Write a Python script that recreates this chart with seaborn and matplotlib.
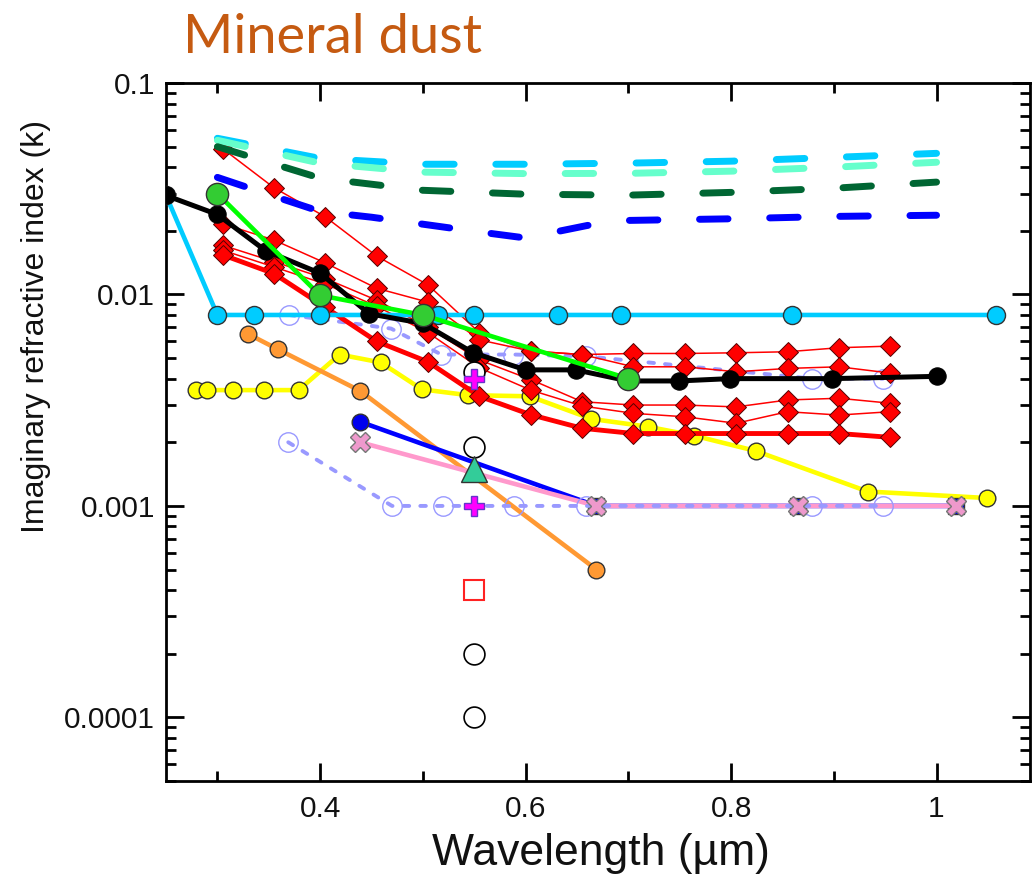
import matplotlib
matplotlib.use("Agg")
import matplotlib.pyplot as plt
import matplotlib.ticker as mticker
import seaborn as sns

# wavelength (um) and imaginary refractive index k
wl_dash = [0.3, 0.4, 0.5, 0.6, 0.7, 0.8, 0.9, 1.0]
k_dash_sky = [0.0548, 0.044, 0.0413, 0.0413, 0.0418, 0.0427, 0.0445, 0.0465]
k_dash_aqua = [0.0536, 0.0418, 0.0379, 0.0373, 0.0374, 0.0383, 0.040, 0.0422]
k_dash_dkgreen = [0.050, 0.0355, 0.0311, 0.0298, 0.0295, 0.0304, 0.0318, 0.034]
wl_dash_blue = [0.3, 0.35, 0.4, 0.45, 0.5, 0.55, 0.6, 0.66, 0.7, 0.8, 0.9, 1.0]
k_dash_blue = [0.0358, 0.0297, 0.0247, 0.0232, 0.0215, 0.0199, 0.0185, 0.0212,
               0.0224, 0.0228, 0.0234, 0.0237]

wl_sky = [0.25, 0.3, 0.336, 0.4, 0.515, 0.55, 0.632, 0.693, 0.859, 1.058]
k_sky = [0.0294, 0.008, 0.008, 0.008, 0.008, 0.008, 0.008, 0.008, 0.008, 0.008]

wl_black = [0.25, 0.3, 0.347, 0.4, 0.448, 0.5, 0.549, 0.6, 0.649, 0.7, 0.749, 0.799, 0.898, 1.0]
k_black = [0.0294, 0.0239, 0.0161, 0.0126, 0.0081, 0.0073, 0.0053, 0.0044, 0.0044,
           0.0039, 0.0039, 0.0040, 0.0040, 0.0041]

wl_green = [0.3, 0.4, 0.5, 0.7]
k_green = [0.030, 0.0099, 0.008, 0.0040]

wl_red = [0.305, 0.355, 0.405, 0.455, 0.505, 0.555, 0.605, 0.655, 0.705, 0.755,
          0.805, 0.855, 0.905, 0.955]
k_red1 = [0.049, 0.032, 0.0233, 0.0152, 0.0111, 0.0066, 0.0054, 0.0052, 0.00526,
          0.00526, 0.0053, 0.00536, 0.0056, 0.0057]
k_red2 = [0.0216, 0.0181, 0.0141, 0.0107, 0.0092, 0.0061, 0.0054, 0.0052, 0.00455,
          0.00455, 0.00431, 0.00447, 0.00455, 0.00425]
k_red3 = [0.0171, 0.0143, 0.0119, 0.0094, 0.0070, 0.0049, 0.00396, 0.00311, 0.0030,
          0.0030, 0.00294, 0.00317, 0.00323, 0.00306]
k_red4 = [0.0162, 0.0135, 0.0112, 0.0088, 0.0066, 0.0045, 0.00353, 0.00297, 0.00274,
          0.00264, 0.00246, 0.00279, 0.00269, 0.00279]
k_red_thick = [0.0154, 0.01256, 0.0087, 0.0060, 0.0048, 0.0033, 0.0027, 0.00233,
               0.0022, 0.0022, 0.0022, 0.0022, 0.0022, 0.00211]

wl_yellow = [0.279, 0.29, 0.315, 0.345, 0.379, 0.419, 0.459, 0.499, 0.544, 0.604,
             0.664, 0.719, 0.764, 0.824, 0.933, 1.049]
k_yellow = [0.00353, 0.00353, 0.00353, 0.00353, 0.00353, 0.0052, 0.00477, 0.00356,
            0.00334, 0.0033, 0.00258, 0.00237, 0.00215, 0.00182, 0.00117, 0.00109]

wl_orange = [0.33, 0.359, 0.439, 0.669]
k_orange = [0.0065, 0.0055, 0.0035, 0.0005]

wl_blue = [0.439, 0.669, 0.865, 1.019]
k_blue = [0.0025, 0.001, 0.001, 0.001]
wl_pink = [0.439, 0.669, 0.865, 1.019]
k_pink = [0.002, 0.001, 0.001, 0.001]

wl_lav_hi = [0.37, 0.469, 0.518, 0.588, 0.659, 0.879, 0.948]
k_lav_hi = [0.008, 0.0069, 0.0052, 0.0052, 0.0051, 0.004, 0.004]
wl_lav_lo = [0.369, 0.47, 0.52, 0.589, 0.659, 0.879, 0.948]
k_lav_lo = [0.002, 0.001, 0.001, 0.001, 0.001, 0.001, 0.001]

# single values at 550 nm
wl_550 = 0.55
k_open = [0.0043, 0.0019, 0.0002, 0.0001]
k_square = [0.0004]
k_triangle = [0.0015]
k_plus = [0.004, 0.001]

sns.set_theme(style="ticks")
plt.rcParams["font.family"] = ["Liberation Sans", "DejaVu Sans"]
plt.rcParams["lines.scale_dashes"] = False

fig = plt.figure(figsize=(10.35, 8.75), dpi=100)
ax = fig.add_axes([0.1604, 0.1074, 0.8348, 0.7977])
ax.set_yscale("log")

EDGE = "#333333"


def line(x, y, **kws):
    sns.lineplot(x=x, y=y, ax=ax, estimator=None, sort=False, legend=False, **kws)


def dots(x, y, **kws):
    line(x, y, linestyle="none", **kws)


# lavender dashed series (open circles)
for xs, ys in [(wl_lav_hi, k_lav_hi), (wl_lav_lo, k_lav_lo)]:
    line(xs, ys, color="#9999ff", lw=2.8, linestyle=(0, (4, 8)),
         dash_capstyle="round", zorder=4)
    dots(xs, ys, marker="o", markersize=14, markerfacecolor="none",
         markeredgecolor="#9999ff", markeredgewidth=1.0, zorder=4)

line(wl_yellow, k_yellow, color="#ffff00", lw=3.3, marker="o", markersize=12,
     markerfacecolor="#ffff00", markeredgecolor=EDGE, markeredgewidth=1, zorder=3)
line(wl_orange, k_orange, color="#ff9933", lw=3.3, marker="o", markersize=12,
     markerfacecolor="#ff9933", markeredgecolor=EDGE, markeredgewidth=1, zorder=3)

line(wl_blue, k_blue, color="#0000ff", lw=3.3, zorder=3)
dots(wl_blue[:1], k_blue[:1], marker="o", markersize=12, markerfacecolor="#0000ee",
     markeredgecolor=EDGE, markeredgewidth=1, zorder=3)
dots(wl_blue[1:], k_blue[1:], marker="s", markersize=11, markerfacecolor="#0000ee",
     markeredgecolor=EDGE, markeredgewidth=1, zorder=3)
line(wl_pink, k_pink, color="#ff99cc", lw=3.3, zorder=3.5)
dots(wl_pink, k_pink, marker="X", markersize=15, markerfacecolor="#ee99cc",
     markeredgecolor="#777777", markeredgewidth=1, zorder=4.5)

for ks in [k_red1, k_red2, k_red3, k_red4]:
    line(wl_red, ks, color="#ff0000", lw=1.1, marker="D", markersize=10,
         markerfacecolor="#ff0000", markeredgecolor="#550000", markeredgewidth=0.7,
         zorder=5)
line(wl_red, k_red_thick, color="#ff0000", lw=3.5, marker="D", markersize=10,
     markerfacecolor="#ff0000", markeredgecolor="#550000", markeredgewidth=0.7, zorder=5)

line(wl_sky, k_sky, color="#00ccff", lw=3.3, marker="o", markersize=13,
     markerfacecolor="#00ccff", markeredgecolor=EDGE, markeredgewidth=1, zorder=5.5)
line(wl_black, k_black, color="black", lw=3.6, marker="o", markersize=12.5,
     markerfacecolor="black", markeredgecolor="black", zorder=6)
line(wl_green, k_green, color="#00ff00", lw=3.3, marker="o", markersize=16,
     markerfacecolor="#33cc33", markeredgecolor=EDGE, markeredgewidth=1, zorder=6.5)

# long-dash series
for ks, col in [(k_dash_sky, "#00ccff"), (k_dash_aqua, "#66ffcc"),
                (k_dash_dkgreen, "#006633")]:
    line(wl_dash, ks, color=col, lw=5, linestyle=(0, (20.5, 30)),
         dash_capstyle="round", zorder=7)
line(wl_dash_blue, k_dash_blue, color="#0000ff", lw=5, linestyle=(0, (20.5, 30)),
     dash_capstyle="round", zorder=7)

# single measurements at 550 nm
dots([wl_550] * len(k_open), k_open, marker="o", markersize=15,
     markerfacecolor="white", markeredgecolor="black", markeredgewidth=1.2, zorder=8)
dots([wl_550], k_square, marker="s", markersize=15, markerfacecolor="white",
     markeredgecolor="#ff2222", markeredgewidth=1.5, zorder=8)
dots([wl_550], k_triangle, marker="^", markersize=19, markerfacecolor="#33cc99",
     markeredgecolor=EDGE, markeredgewidth=1, zorder=8)
dots([wl_550] * len(k_plus), k_plus, marker="P", markersize=15,
     markerfacecolor="#ff00ff", markeredgecolor="#6633cc", markeredgewidth=1, zorder=9)

ax.set_xlim(0.25, 1.091)
ax.set_ylim(5e-5, 0.1)

ax.xaxis.set_major_locator(mticker.FixedLocator([0.4, 0.6, 0.8, 1.0]))
ax.xaxis.set_major_formatter(mticker.FixedFormatter(["0.4", "0.6", "0.8", "1"]))
ax.xaxis.set_minor_locator(mticker.FixedLocator([0.3, 0.5, 0.7, 0.9]))
ax.yaxis.set_major_locator(mticker.FixedLocator([1e-4, 1e-3, 1e-2, 1e-1]))
ax.yaxis.set_major_formatter(mticker.FixedFormatter(["0.0001", "0.001", "0.01", "0.1"]))
ax.yaxis.set_minor_locator(mticker.LogLocator(base=10, subs=range(2, 10)))
ax.yaxis.set_minor_formatter(mticker.NullFormatter())

ax.tick_params(which="both", direction="in", top=True, right=True, color="black",
               labelsize=21.5, labelcolor="#111111")
ax.tick_params(which="major", length=13, width=2)
ax.tick_params(which="minor", length=7, width=2)
ax.tick_params(axis="x", which="major", pad=10)
ax.tick_params(axis="y", which="major", pad=8)
for sp in ax.spines.values():
    sp.set_visible(True)
    sp.set_linewidth(2)
    sp.set_color("black")
ax.set_facecolor("white")
ax.grid(False)

fig.text(0.581, 0.0114, "Wavelength (µm)", ha="center", va="baseline", fontsize=32,
         color="#111111")
fig.text(0.035, 0.627, "Imaginary refractive index (k)", rotation=90, ha="center",
         va="center", fontsize=23, color="#111111")
fig.text(0.1768, 0.9394, "Mineral dust", ha="left", va="baseline", fontsize=39,
         color="#c55a11", family=["Lato", "DejaVu Sans"])

fig.savefig("out.png", dpi=100, facecolor="white")
